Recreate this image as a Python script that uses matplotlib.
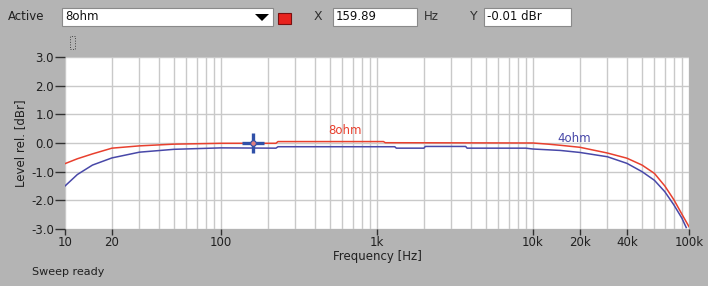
import matplotlib
matplotlib.use("Agg")
import matplotlib.pyplot as plt
from matplotlib.patches import Rectangle, Polygon
from matplotlib.ticker import FixedLocator, NullFormatter

freq_8ohm = [10, 12, 15, 20, 30, 50, 100, 225, 232, 1100, 1130, 10000, 12500,
             15000, 20000, 30000, 40000, 50000, 60000, 70000, 80000, 90000, 100000]
level_8ohm = [-0.72, -0.55, -0.38, -0.18, -0.10, -0.04, -0.01, -0.01, 0.05, 0.05, 0.01,
              0.0, -0.04, -0.08, -0.15, -0.35, -0.53, -0.77, -1.06, -1.5, -1.98, -2.48, -2.92]

freq_4ohm = [10, 12, 15, 20, 30, 50, 100, 225, 232, 1300, 1330, 2000, 2040, 3700, 3780,
             9000, 10000, 15000, 20000, 30000, 40000, 50000, 60000, 70000, 80000, 90000, 96000]
level_4ohm = [-1.5, -1.1, -0.77, -0.52, -0.32, -0.22, -0.17, -0.18, -0.13, -0.13, -0.18,
              -0.18, -0.12, -0.12, -0.18, -0.18, -0.21, -0.26, -0.33, -0.48, -0.71, -1.0,
              -1.3, -1.7, -2.16, -2.62, -2.95]

x_ticks = [10, 20, 100, 1000, 10000, 20000, 40000, 100000]
x_labels = ["10", "20", "100", "1k", "10k", "20k", "40k", "100k"]
y_ticks = [3, 2, 1, 0, -1, -2, -3]
y_labels = ["3.0", "2.0", "1.0", "0.0", "-1.0", "-2.0", "-3.0"]

cursor_freq = 159.89
cursor_level = -0.01

RED = "#e8402e"
BLUE = "#4848a8"
BG = "#b4b4b4"
GRID = "#c9c9c9"

W, H = 708, 286
fig = plt.figure(figsize=(W / 100, H / 100), dpi=100, facecolor=BG)


def fx(px):
    return px / W


def fy(py):
    return 1 - py / H


def box(x0, y0, x1, y1, color="white", edge="#8a8a8a"):
    fig.patches.append(Rectangle((fx(x0), fy(y1)), fx(x1) - fx(x0), fy(y0) - fy(y1),
                                 transform=fig.transFigure, facecolor=color,
                                 edgecolor=edge, linewidth=0.8))


ax = fig.add_axes([fx(65), fy(229), fx(689) - fx(65), fy(57) - fy(229)])
ax.set_facecolor("white")
ax.set_xscale("log")
ax.set_xlim(10, 100000)
ax.set_ylim(-3, 3)

# full log grid, ticks only on labelled positions
minor = [m * 10 ** e for e in range(1, 5) for m in range(1, 10)] + [100000]
ax.xaxis.set_minor_locator(FixedLocator(minor))
ax.xaxis.set_minor_formatter(NullFormatter())
ax.tick_params(axis="x", which="minor", length=0)
ax.grid(True, which="both", axis="x", color=GRID, linewidth=1.0)
ax.grid(True, which="major", axis="y", color=GRID, linewidth=1.0)
ax.set_axisbelow(True)

ax.set_xticks(x_ticks)
ax.set_xticklabels(x_labels)
ax.set_yticks(y_ticks)
ax.set_yticklabels(y_labels)
ax.tick_params(axis="x", which="major", length=4, width=1, color="#303030",
               labelsize=8.5, pad=1, labelcolor="#202020")
ax.tick_params(axis="y", which="major", length=7, width=1, color="#303030",
               labelsize=8.5, pad=1, labelcolor="#202020")
for s in ax.spines.values():
    s.set_visible(False)

ax.plot(freq_8ohm, level_8ohm, color=RED, linewidth=1.1)
ax.plot(freq_4ohm, level_4ohm, color=BLUE, linewidth=1.1)

ax.text(620, 0.45, "8ohm", color=RED, fontsize=8.5, ha="center", va="center")
ax.text(18500, 0.14, "4ohm", color=BLUE, fontsize=8.5, ha="center", va="center")

# cursor cross
ax.plot([cursor_freq / 1.18, cursor_freq * 1.18], [cursor_level, cursor_level],
        color="#3050a8", linewidth=2.4, solid_capstyle="butt")
ax.plot([cursor_freq, cursor_freq], [cursor_level - 0.35, cursor_level + 0.35],
        color="#3050a8", linewidth=2.4, solid_capstyle="butt")
ax.plot([cursor_freq], [cursor_level], marker="o", markersize=4,
        markerfacecolor="#e08080", markeredgecolor="#3050a8", markeredgewidth=0.8)

ax.set_xlabel("Frequency [Hz]", fontsize=8.5, labelpad=1, color="#202020")
ax.set_ylabel("Level rel. [dBr]", fontsize=8.5, labelpad=3, color="#202020")

# toolbar above the chart
fig.text(fx(8), fy(17), "Active", fontsize=8.5, va="center", color="#202020")
box(62, 8, 273, 26)
fig.text(fx(65), fy(17), "8ohm", fontsize=8.5, va="center", color="#101010")
fig.patches.append(Polygon([(fx(255), fy(14)), (fx(269), fy(14)), (fx(262), fy(21))],
                           closed=True, transform=fig.transFigure, facecolor="black"))
box(278, 13, 291, 24, color="#e8231e", edge="#7a1010")
fig.text(fx(314), fy(17), "X", fontsize=9, va="center", color="#303030")
box(333, 8, 417, 26)
fig.text(fx(336), fy(17), "159.89", fontsize=8.5, va="center", color="#101010")
fig.text(fx(424), fy(17), "Hz", fontsize=8.5, va="center", color="#303030")
fig.text(fx(470), fy(17), "Y", fontsize=9, va="center", color="#303030")
box(484, 8, 571, 26)
fig.text(fx(487), fy(17), "-0.01 dBr", fontsize=8.5, va="center", color="#101010")

# small dotted marker icon
fig.patches.append(Rectangle((fx(70), fy(49)), fx(5), fy(36) - fy(49),
                             transform=fig.transFigure, facecolor="none",
                             edgecolor="#404040", linewidth=0.7, linestyle=":"))

fig.text(fx(32), fy(272), "Sweep ready", fontsize=8, va="center", color="#202020")

fig.savefig("out.png", dpi=100, facecolor=BG)
